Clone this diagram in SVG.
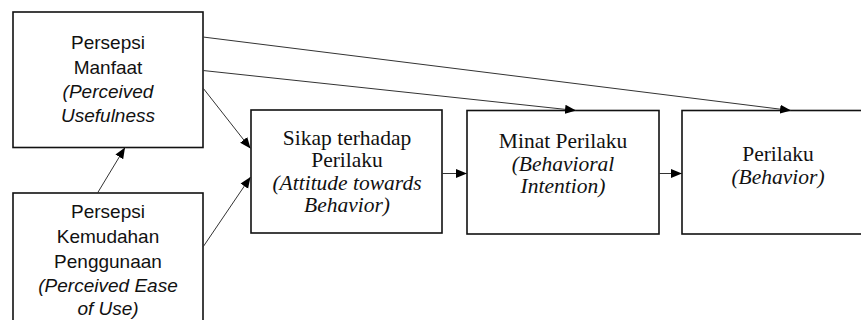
<svg xmlns="http://www.w3.org/2000/svg" width="861" height="320" viewBox="0 0 861 320">
<style>
.box{fill:#fff;stroke:#111;stroke-width:1.6}
.con{fill:none;stroke:#333;stroke-width:1;marker-end:url(#ah)}
.sans{font-family:'Liberation Sans',Arial,sans-serif;font-size:19px;fill:#111;text-anchor:middle}
.serif{font-family:'Liberation Serif','DejaVu Serif',serif;font-size:21.5px;fill:#111;text-anchor:middle}
.it{font-style:italic}
</style>
<defs>
<marker id="ah" markerUnits="userSpaceOnUse" markerWidth="12" markerHeight="10" refX="11" refY="5" orient="auto">
<path d="M0,0.5 L11,5 L0,9.5 z" fill="#000"/>
</marker>
</defs>
<rect width="861" height="320" fill="#fff"/>
<g id="pu">
<rect class="box" x="13" y="12" width="190" height="135.5"/>
<text class="sans" x="108" y="49">Persepsi</text>
<text class="sans" x="108" y="74">Manfaat</text>
<text class="sans it" x="108" y="98">(Perceived</text>
<text class="sans it" x="108" y="122">Usefulness</text>
</g>
<g id="peou">
<rect class="box" x="13" y="193" width="190" height="140"/>
<text class="sans" x="108" y="218">Persepsi</text>
<text class="sans" x="108" y="243">Kemudahan</text>
<text class="sans" x="108" y="268">Penggunaan</text>
<text class="sans it" x="108" y="292">(Perceived Ease</text>
<text class="sans it" x="108" y="315">of Use)</text>
</g>
<g id="atb">
<rect class="box" x="251" y="110" width="191" height="123"/>
<text class="serif" x="347" y="145">Sikap terhadap</text>
<text class="serif" x="347" y="167">Perilaku</text>
<text class="serif it" x="347" y="189.5">(Attitude towards</text>
<text class="serif it" x="347" y="212">Behavior)</text>
</g>
<g id="bi">
<rect class="box" x="467" y="110.5" width="192" height="123.5"/>
<text class="serif" x="563" y="148">Minat Perilaku</text>
<text class="serif it" x="563" y="170.5">(Behavioral</text>
<text class="serif it" x="563" y="193">Intention)</text>
</g>
<g id="b">
<rect class="box" x="682" y="110.5" width="192" height="123.5"/>
<text class="serif" x="778" y="161">Perilaku</text>
<text class="serif it" x="778" y="183.5">(Behavior)</text>
</g>
<g id="connectors">
<line class="con" x1="203" y1="37" x2="791" y2="110.5"/>
<line class="con" x1="203" y1="70.5" x2="576" y2="110.5"/>
<line class="con" x1="203" y1="88" x2="250.5" y2="148.5"/>
<line class="con" x1="97.5" y1="193" x2="125" y2="147.5"/>
<line class="con" x1="203" y1="247" x2="250.5" y2="177"/>
<line class="con" x1="442" y1="173.5" x2="467" y2="173.5"/>
<line class="con" x1="659" y1="173.5" x2="682" y2="173.5"/>
</g>
</svg>
